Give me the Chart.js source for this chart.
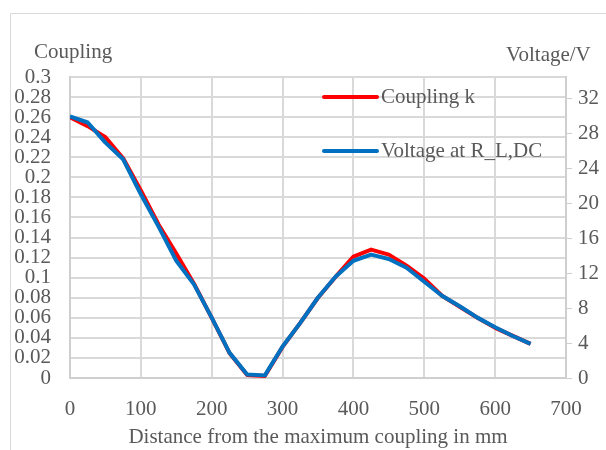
<!DOCTYPE html>
<html>
<head>
<meta charset="utf-8">
<script src="https://cdn.jsdelivr.net/npm/chart.js@4/dist/chart.umd.min.js"></script>
<style>
html,body{margin:0;padding:0;background:#fff;}
#wrap{position:relative;width:606px;height:450px;}
</style>
</head>
<body>
<div id="wrap"><canvas id="c" width="606" height="450"></canvas></div>
<script>
const distances = [0,25,50,75,100,125,150,175,200,225,250,275,300,325,350,375,400,425,450,475,500,525,550,575,600,625,650];
const couplingK = [0.26,0.251,0.240,0.219,0.187,0.153,0.124,0.094,0.060,0.025,0.003,0.002,0.031,0.055,0.080,0.101,0.121,0.128,0.123,0.112,0.099,0.082,0.071,0.060,0.050,0.042,0.034];
const voltage = [29.9,29.2,26.9,25.0,21.0,17.3,13.4,10.7,6.9,2.9,0.4,0.3,3.6,6.3,9.2,11.6,13.4,14.1,13.6,12.6,11.0,9.4,8.2,6.9,5.8,4.8,3.9];
const leftTicks = [0,0.02,0.04,0.06,0.08,0.1,0.12,0.14,0.16,0.18,0.2,0.22,0.24,0.26,0.28,0.3];
const rightTicks = [0,4,8,12,16,20,24,28,32];
const xTicks = [0,100,200,300,400,500,600,700];
const seriesNames = ['Coupling k','Voltage at R_L,DC'];
const leftTitle = 'Coupling';
const rightTitle = 'Voltage/V';
const xTitle = 'Distance from the maximum coupling in mm';

const FONT = "'Liberation Serif', 'Times New Roman', serif";
const FS = 21;
const TXT = '#595959';
const GRID = '#d9d9d9';

const extras = {
  id: 'extras',
  beforeDraw(chart) {
    const ctx = chart.ctx;
    ctx.save();
    ctx.strokeStyle = '#d9d9d9';
    ctx.lineWidth = 1;
    ctx.beginPath();
    ctx.moveTo(10.5, 450);
    ctx.lineTo(10.5, 13.5);
    ctx.lineTo(606, 13.5);
    ctx.stroke();
    ctx.restore();
  },
  afterDraw(chart) {
    const ctx = chart.ctx;
    ctx.save();
    ctx.fillStyle = TXT;
    ctx.font = FS + "px " + FONT;
    ctx.textBaseline = 'middle';
    ctx.textAlign = 'left';
    ctx.fillText(leftTitle, 34, 52);
    ctx.fillText(rightTitle, 506, 55);
    const ys = [97, 151];
    chart.data.datasets.forEach((ds, i) => {
      ctx.strokeStyle = ds.borderColor;
      ctx.lineWidth = 4;
      ctx.lineCap = 'round';
      ctx.beginPath();
      ctx.moveTo(324, ys[i]);
      ctx.lineTo(377, ys[i]);
      ctx.stroke();
      ctx.fillStyle = TXT;
      ctx.fillText(ds.label, 381, ys[i]);
    });
    ctx.restore();
  }
};

new Chart(document.getElementById('c'), {
  type: 'line',
  data: {
    datasets: [
      {
        label: seriesNames[0],
        data: distances.map((d, i) => ({x: d, y: couplingK[i]})),
        borderColor: '#ff0000',
        borderWidth: 4,
        pointRadius: 0,
        tension: 0,
        yAxisID: 'y',
        order: 2,
        borderJoinStyle: 'round'
      },
      {
        label: seriesNames[1],
        data: distances.map((d, i) => ({x: d, y: voltage[i]})),
        borderColor: '#0070c0',
        borderWidth: 4,
        pointRadius: 0,
        tension: 0,
        yAxisID: 'y1',
        order: 1,
        borderJoinStyle: 'round'
      }
    ]
  },
  options: {
    responsive: false,
    animation: false,
    layout: {padding: {top: 77, left: 0, right: 0, bottom: 0}},
    plugins: {legend: {display: false}, tooltip: {enabled: false}},
    scales: {
      x: {
        type: 'linear',
        min: 0, max: 700,
        afterBuildTicks(s) { s.ticks = xTicks.map(v => ({value: v})); },
        afterFit(s) { s.height = 72; },
        grid: {color: GRID, lineWidth: 2, drawTicks: false},
        border: {color: '#cfcfcf', width: 2},
        ticks: {color: TXT, font: {family: FONT, size: FS}, padding: 19, maxRotation: 0, autoSkip: false},
        title: {display: true, text: xTitle, color: TXT, font: {family: FONT, size: FS}, padding: {top: 0, bottom: 0}}
      },
      y: {
        position: 'left',
        min: 0, max: 0.3,
        afterBuildTicks(s) { s.ticks = leftTicks.map(v => ({value: v})); },
        afterFit(s) { s.width = 70; },
        grid: {color: GRID, lineWidth: 2, drawTicks: false},
        border: {color: '#cfcfcf', width: 2},
        ticks: {color: TXT, font: {family: FONT, size: FS, lineHeight: 1}, padding: 19, autoSkip: false,
          callback: v => String(+v.toFixed(2))}
      },
      y1: {
        position: 'right',
        min: 0, max: 34.4,
        afterBuildTicks(s) { s.ticks = rightTicks.map(v => ({value: v})); },
        afterFit(s) { s.width = 40; },
        grid: {drawOnChartArea: false, color: '#cfcfcf', lineWidth: 1, tickLength: 6},
        border: {color: '#cfcfcf', width: 2},
        ticks: {color: TXT, font: {family: FONT, size: FS}, padding: 6, autoSkip: false}
      }
    }
  },
  plugins: [extras]
});
</script>
</body>
</html>
